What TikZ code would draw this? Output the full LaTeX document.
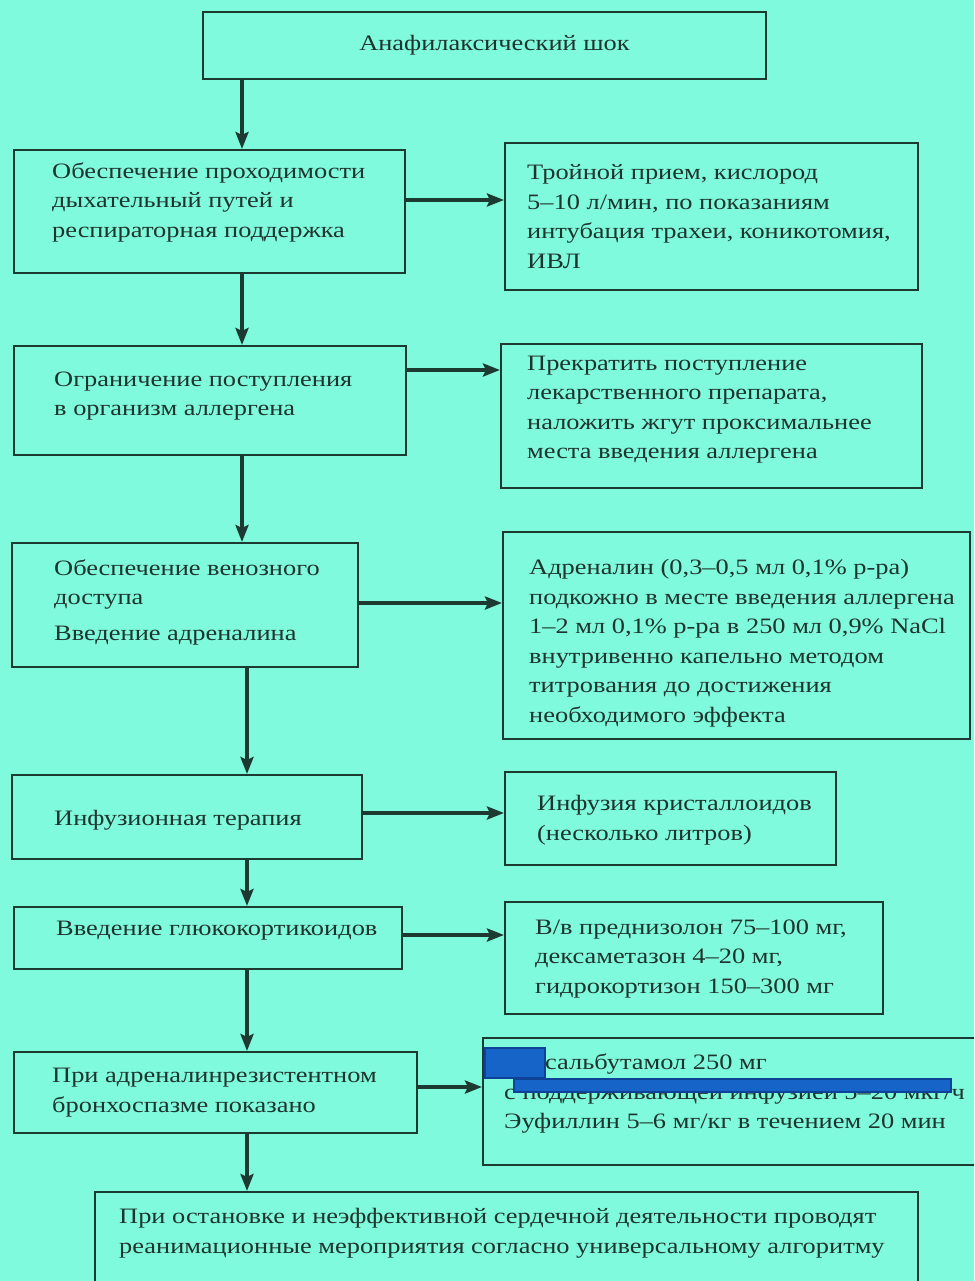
\documentclass[tikz,border=0pt]{standalone}
\usepackage{fontspec}
\setmainfont{Liberation Serif}[FakeStretch=1.2]
\usepackage{tikz}
\usetikzlibrary{arrows.meta}
\usetikzlibrary{positioning}
\usetikzlibrary{calc}
\definecolor{colorBG}{RGB}{128,250,220}
\definecolor{colorLine}{RGB}{28,58,50}
\definecolor{colorText}{RGB}{30,52,46}
\definecolor{colorMask}{RGB}{22,100,200}
\definecolor{colorMaskEdge}{RGB}{14,66,150}
\tikzset{
   every path/.style={>={Stealth[length=17pt,width=13pt,inset=3pt]}},
   box/.style={draw=colorLine,line width=2pt,inner sep=0pt},
   txt/.style={align=left,inner sep=0pt,text=colorText,font=\fontsize{22}{29.5}\selectfont},
   flow/.style={->,draw=colorLine,fill=colorLine,line width=3.5pt},
   mask/.style={draw=colorMaskEdge,fill=colorMask,line width=2pt},
}

\begin{document}
\begin{tikzpicture}[x=1pt,y=-1pt]
  \useasboundingbox (0,0) rectangle (974,1281);
  \fill[colorBG] (0,0) rectangle (974,1281);
  \clip (0,0) rectangle (974,1281);

  \coordinate (spine)  at (242,0);
  \coordinate (spineB) at (247,0);

  \node[box,minimum width=563pt,minimum height=67pt]  (shock)     at (484.5, 45.5) {};
  \node[txt,xshift=10pt] (shockT) at (shock) {Анафилаксический шок};

  \node[box,minimum width=391pt,minimum height=123pt] (airway)    at (209.5, 211.5) {};
  \node[box,minimum width=413pt,minimum height=147pt] (airwayR)   at (711.5, 216.5) {};
  \node[txt,right=39pt of airway.west,yshift=9.5pt] (airwayT)
       {Обеспечение проходимости\\дыхательный путей и\\респираторная поддержка};
  \node[txt,right=23pt of airwayR.west] (airwayRT)
       {Тройной прием, кислород\\5--10 л/мин, по показаниям\\интубация трахеи, коникотомия,\\ИВЛ};

  \node[box,minimum width=392pt,minimum height=109pt] (allergen)  at (210, 400.5) {};
  \node[box,minimum width=421pt,minimum height=144pt] (allergenR) at (711.5, 416) {};
  \node[txt,right=41pt of allergen.west,yshift=4.5pt] (allergenT)
       {Ограничение поступления\\в организм аллергена};
  \node[txt,right=27pt of allergenR.west,yshift=6.5pt] (allergenRT)
       {Прекратить поступление\\лекарственного препарата,\\наложить жгут проксимальнее\\места введения аллергена};

  \node[box,minimum width=346pt,minimum height=124pt] (venous)    at (185, 605) {};
  \node[box,minimum width=467pt,minimum height=207pt] (venousR)   at (736.5, 635.5) {};
  \node[txt,right=43pt of venous.west,yshift=3pt] (venousT)
       {Обеспечение венозного\\доступа\\[6pt]Введение адреналина};
  \node[txt,right=27pt of venousR.west,yshift=-7.5pt] (venousRT)
       {Адреналин (0,3--0,5 мл 0,1\% р-ра)\\подкожно в месте введения аллергена\\1--2 мл 0,1\% р-ра в 250 мл 0,9\% NaCl\\внутривенно капельно методом\\титрования до достижения\\необходимого эффекта};

  \node[box,minimum width=350pt,minimum height=84pt]  (infusion)  at (187, 817) {};
  \node[box,minimum width=331pt,minimum height=93pt]  (infusionR) at (670.5, 818.5) {};
  \node[txt,right=43pt of infusion.west,yshift=-3pt] (infusionT)
       {Инфузионная терапия};
  \node[txt,right=33pt of infusionR.west,yshift=-1.5pt] (infusionRT)
       {Инфузия кристаллоидов\\(несколько литров)};

  \node[box,minimum width=388pt,minimum height=62pt]  (gluco)     at (208, 938) {};
  \node[box,minimum width=378pt,minimum height=112pt] (glucoR)    at (694, 958) {};
  \node[txt,right=43pt of gluco.west,yshift=7pt] (glucoT)
       {Введение глюкокортикоидов};
  \node[txt,right=31pt of glucoR.west,yshift=-1pt] (glucoRT)
       {В/в преднизолон 75--100 мг,\\дексаметазон 4--20 мг,\\гидрокортизон 150--300 мг};

  \node[box,minimum width=403pt,minimum height=81pt]  (broncho)   at (215.5, 1092.5) {};
  \node[box,minimum width=502pt,minimum height=127pt] (bronchoR)  at (734, 1101.5) {};
  \node[txt,right=39pt of broncho.west] (bronchoT)
       {При адреналинрезистентном\\бронхоспазме показано};
  \node[txt,right=22pt of bronchoR.west,yshift=8pt] (bronchoRT)
       {\hspace*{41pt}сальбутамол 250 мг\\с поддерживающей инфузией 5--20 мкг/ч\\Эуфиллин 5--6 мг/кг в течением 20 мин};
  \draw[mask] (485,1048) rectangle (545,1078);
  \draw[mask] (514,1079) rectangle (951,1092);

  \node[box,minimum width=823pt,minimum height=103pt] (arrest)    at (506.5, 1243.5) {};
  \node[txt,right=25pt of arrest.west,yshift=10.5pt] (arrestT)
       {При остановке и неэффективной сердечной деятельности проводят\\реанимационные мероприятия согласно универсальному алгоритму};

  \draw[flow] (shock.south -| spine)     -- (airway.north -| spine);
  \draw[flow] (airway.south -| spine)    -- (allergen.north -| spine);
  \draw[flow] (allergen.south -| spine)  -- (venous.north -| spine);
  \draw[flow] (venous.south -| spineB)   -- (infusion.north -| spineB);
  \draw[flow] (infusion.south -| spineB) -- (gluco.north -| spineB);
  \draw[flow] (gluco.south -| spineB)    -- (broncho.north -| spineB);
  \draw[flow] (broncho.south -| spineB)  -- (arrest.north -| spineB);

  \coordinate (h1) at ([yshift=11.5pt]airway.east);
  \coordinate (h2) at ([yshift=30.5pt]allergen.east);
  \coordinate (h3) at ([yshift=2pt]venous.east);
  \coordinate (h4) at ([yshift=4pt]infusion.east);
  \coordinate (h5) at ([yshift=3pt]gluco.east);
  \coordinate (h6) at ([yshift=5.5pt]broncho.east);
  \draw[flow] (h1) -- (h1 -| airwayR.west);
  \draw[flow] (h2) -- (h2 -| allergenR.west);
  \draw[flow] (h3) -- (h3 -| venousR.west);
  \draw[flow] (h4) -- (h4 -| infusionR.west);
  \draw[flow] (h5) -- (h5 -| glucoR.west);
  \draw[flow] (h6) -- (h6 -| bronchoR.west);
\end{tikzpicture}
\end{document}
